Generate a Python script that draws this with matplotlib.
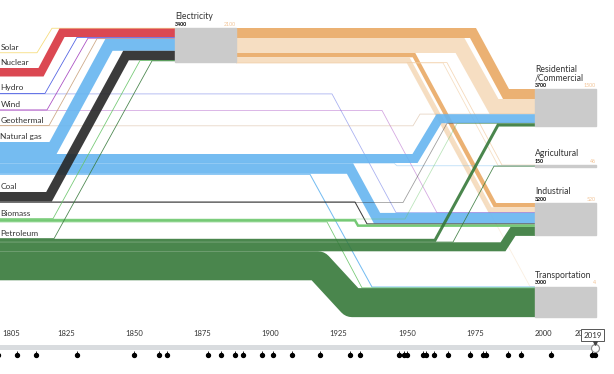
import matplotlib.pyplot as plt
from matplotlib.patches import Rectangle

plt.rcParams['font.family'] = ['Lato', 'DejaVu Sans']

# ---------------- data (2019, units as shown on the chart) ----------------
sources = ['Solar', 'Nuclear', 'Hydro', 'Wind', 'Geothermal', 'Natural gas', 'Coal', 'Biomass', 'Petroleum']
sectors = ['Residential\n/Commercial', 'Agricultural', 'Industrial', 'Transportation']
sector_keys = ['Residential', 'Agricultural', 'Industrial', 'Transportation']
sector_total = [3700, 150, 3200, 3000]
sector_lost = [1500, 46, 520, 4]
elec_total = 3400
elec_lost = 2100

# flows, in stacking order (electricity outputs first, then primary sources)
flow_src = ['Electricity'] * 7 + [
    'Solar', 'Nuclear', 'Hydro', 'Hydro', 'Wind', 'Wind', 'Geothermal', 'Geothermal',
    'Natural gas', 'Natural gas', 'Natural gas', 'Natural gas', 'Natural gas',
    'Coal', 'Coal', 'Coal', 'Biomass', 'Biomass', 'Biomass', 'Biomass',
    'Petroleum', 'Petroleum', 'Petroleum', 'Petroleum', 'Petroleum']
flow_tgt = ['Residential', 'Residential', 'Industrial', 'Industrial', 'Agricultural', 'Agricultural', 'Transportation',
    'Electricity', 'Electricity', 'Electricity', 'Industrial', 'Electricity', 'Industrial', 'Electricity', 'Residential',
    'Electricity', 'Residential', 'Agricultural', 'Industrial', 'Transportation',
    'Electricity', 'Industrial', 'Residential', 'Electricity', 'Residential', 'Industrial', 'Transportation',
    'Electricity', 'Residential', 'Agricultural', 'Industrial', 'Transportation']
flow_val = [1000, 1500, 430, 520, 15, 46, 4,
    50, 850, 80, 20, 80, 20, 20, 20,
    1200, 900, 30, 1050, 100,
    950, 100, 15, 40, 20, 250, 60,
    30, 300, 50, 900, 2900]
flow_lost = [False, True, False, True, False, True, True] + [False] * 25

event_years = [1800, 1807, 1814, 1829, 1850, 1859, 1862, 1877, 1882, 1887, 1890, 1897, 1901, 1908,
               1918, 1929, 1933, 1947, 1949, 1950, 1956, 1957, 1960, 1965, 1973, 1978, 1979,
               1987, 1992, 2003, 2018, 2019]
tick_years = [1805, 1825, 1850, 1875, 1900, 1925, 1950, 1975, 2000]
current_year = 2019

# ---------------- layout (pixel space) ----------------
PX = 0.01          # pixels per unit
PT = 0.72          # points per pixel at dpi 100
node_top = {'Solar': 52.5, 'Nuclear': 68, 'Hydro': 93, 'Wind': 109.5, 'Geothermal': 125.5,
            'Natural gas': 142, 'Coal': 192, 'Biomass': 218.5, 'Petroleum': 238.5,
            'Electricity': 28, 'Residential': 89, 'Agricultural': 165, 'Industrial': 203,
            'Transportation': 286.5}
elec_x = (175, 236)
sector_x = (535, 596)
# x where each flow starts and ends its diagonal
bends = [(473, 506), (460, 494), (414, 495), (408, 490), (447, 502), (443, 498), (409, 530),
         (37, 52), (41, 62), (45, 77), (332, 396), (47, 88), (382, 437), (49, 97), (413, 420),
         (53, 109), (415, 439), (394, 397), (350, 377), (310, 372),
         (49, 126), (355, 367), (403, 447), (53, 140), (405, 457), (355, 358), (327, 362),
         (54, 152), (435, 498), (453, 494), (503, 513), (318, 352)]

colors = {'Solar': '#f5d86c', 'Nuclear': '#d7343f', 'Hydro': '#3f51e0', 'Wind': '#a03cbd',
          'Geothermal': '#c8a07a', 'Natural gas': '#66b5f0', 'Coal': '#262626',
          'Biomass': '#66c466', 'Petroleum': '#36793a'}
elec_used_color = '#e9a964'
elec_lost_color = '#f5dbbc'
lost_text = '#f2c497'
text_color = '#333333'

fig = plt.figure(figsize=(6.14, 3.74), dpi=100)
ax = fig.add_axes([0, 0, 1, 1])
ax.set_xlim(0, 614)
ax.set_ylim(374, 0)
ax.axis('off')

# ---------------- flows ----------------
out_off = dict(node_top)
in_off = dict(node_top)
for i, (s, t, v) in enumerate(zip(flow_src, flow_tgt, flow_val)):
    w = v * PX
    ys = out_off[s] + w / 2
    out_off[s] += w
    yt = in_off[t] + w / 2
    in_off[t] += w
    x0 = elec_x[1] if s == 'Electricity' else 0
    x1 = elec_x[0] if t == 'Electricity' else sector_x[0]
    b0, b1 = bends[i]
    if s == 'Electricity':
        c = elec_lost_color if flow_lost[i] else elec_used_color
    else:
        c = colors[s]
    faint = v <= 30 and t != 'Electricity'
    alpha = 0.45 if faint else 0.9
    join = 'round' if v > 2000 else 'miter'
    ax.plot([x0, b0, b1, x1], [ys, ys, yt, yt], color=c, alpha=alpha,
            lw=max(w, 0.8) * PT, solid_capstyle='butt', solid_joinstyle=join)

# ---------------- nodes ----------------
for s in sources:
    ax.text(0.5, node_top[s] - 5.5, s, fontsize=6, color=text_color, va='center', ha='left')

def node_label(x0, x1, top, name, total, lost):
    lines = name.split('\n')
    for k, line in enumerate(lines):
        ax.text(x0, top - 11.5 - 8 * (len(lines) - 1 - k), line, fontsize=6.2,
                color=text_color, va='center', ha='left')
    ax.text(x0, top - 4, str(total), fontsize=3.8, fontweight='bold', color='black', va='center', ha='left')
    ax.text(x1, top - 4, str(lost), fontsize=3.8, color=lost_text, va='center', ha='right')

ax.add_patch(Rectangle((elec_x[0], node_top['Electricity']), elec_x[1] - elec_x[0], elec_total * PX,
                       color='#cbcbcb', zorder=3))
node_label(elec_x[0], elec_x[1], node_top['Electricity'], 'Electricity', elec_total, elec_lost)
for name, key, tot, lost in zip(sectors, sector_keys, sector_total, sector_lost):
    ax.add_patch(Rectangle((sector_x[0], node_top[key]), sector_x[1] - sector_x[0], tot * PX,
                           color='#cbcbcb', zorder=3))
    node_label(sector_x[0], sector_x[1], node_top[key], name, tot, lost)

# ---------------- timeline ----------------
ax2 = fig.add_axes([0, 0, 1, 1])
ax2.patch.set_alpha(0)
ax2.set_xlim(1800.81, 2025.97)
ax2.set_ylim(374, 0)
ax2.axis('off')
ax2.add_patch(Rectangle((1800.81, 344.5), current_year - 1800.81, 5.5, color='#d9dcdf', lw=0))
for yr in tick_years:
    ax2.text(yr, 334, str(yr), fontsize=5.5, color=text_color, ha='center', va='center')
ax2.text(2014.9, 334, '2025', fontsize=5.5, color=text_color, ha='center', va='center', zorder=1)
ax2.vlines(event_years, 350.5, 354, color='black', lw=0.6)
ax2.scatter(event_years, [355] * len(event_years), s=8, color='black', zorder=4)
ax2.text(2018.1, 335, str(current_year), fontsize=5.8, color=text_color, ha='center', va='center',
         bbox=dict(boxstyle='square,pad=0.25', fc='white', ec='#555555', lw=0.7), zorder=6)
ax2.scatter([current_year], [343], marker='v', s=6, color='#444444', zorder=6)
ax2.scatter([current_year], [347.5], s=33, facecolor='white', edgecolor='#888888', lw=0.8, zorder=5)

fig.savefig('out.png', dpi=100)
